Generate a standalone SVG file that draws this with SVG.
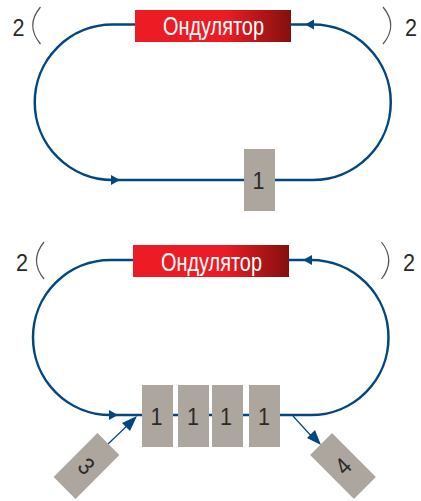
<svg xmlns="http://www.w3.org/2000/svg" width="421" height="501" viewBox="0 0 421 501">
<style>
.beam{fill:none;stroke:#04467f;stroke-width:2.500}
.thin{fill:none;stroke:#04467f;stroke-width:1.200}
.head{fill:#04467f}
.brk{fill:none;stroke:#55524f;stroke-width:1.200}
.box{fill:#aca69f}
.und{fill:url(#g)}
.t{font-family:"Liberation Sans",Arial,sans-serif;font-size:24px;fill:#2b2a29;text-anchor:middle}
.w{font-family:"Liberation Sans",Arial,sans-serif;font-size:25px;fill:#fff}
</style>
<defs>
<linearGradient id="g" x1="0" x2="1" y1="0" y2="0"><stop offset="0" stop-color="#ed1c24"/><stop offset="0.58" stop-color="#ed1c24"/><stop offset="1" stop-color="#83100f"/></linearGradient>
</defs>
<rect width="421" height="501" fill="#fff"/>
<g id="connectors">
<path class="beam" d="M135 24.500H112.500A77.750 77.750 0 0 0 112.500 180H244M275 180H313A77.750 77.750 0 0 0 313 24.500H291"/>
<path class="head" d="M120 180L111 175V185Z M305 24.500L314 19.500V29.500Z"/>
<path class="beam" d="M133 260H110.500A77.500 77.500 0 0 0 110.500 415H142M173 415H178M209 415H212M243 415H249M280 415H311A77.500 77.500 0 0 0 311 260H289"/>
<path class="head" d="M118 415L109 410V420Z M303 260L312 255V265Z"/>
<path class="thin" d="M108 444L130 423M293 416L314 439"/>
<path class="head" d="M137 416L130 431L122 423Z M321 445L307 438L315 430Z"/>
<path class="brk" d="M40.500 7Q25 25.500 40.500 44M383 7Q398.500 25.500 383 44M44 242Q29 260.500 44 279M381.500 242Q396 260.500 381.500 279"/>
</g>
<g id="undulator-top"><rect class="und" x="135" y="10" width="156" height="32"/><text class="w" x="163" y="35" textLength="101" lengthAdjust="spacingAndGlyphs">Ондулятор</text></g>
<g id="undulator-bottom"><rect class="und" x="133" y="245" width="156" height="32"/><text class="w" x="161" y="271" textLength="101" lengthAdjust="spacingAndGlyphs">Ондулятор</text></g>
<g id="label-2a"><text class="t" x="18.500" y="36" textLength="12" lengthAdjust="spacingAndGlyphs">2</text></g>
<g id="label-2b"><text class="t" x="411" y="36" textLength="12" lengthAdjust="spacingAndGlyphs">2</text></g>
<g id="label-2c"><text class="t" x="22" y="271" textLength="12" lengthAdjust="spacingAndGlyphs">2</text></g>
<g id="label-2d"><text class="t" x="409" y="271" textLength="12" lengthAdjust="spacingAndGlyphs">2</text></g>
<g id="box-1"><rect class="box" x="244" y="149" width="31" height="62"/><text class="t" x="258.500" y="189" textLength="12" lengthAdjust="spacingAndGlyphs">1</text></g>
<g id="box-1a"><rect class="box" x="142" y="385" width="31" height="62"/><text class="t" x="156.500" y="425" textLength="12" lengthAdjust="spacingAndGlyphs">1</text></g>
<g id="box-1b"><rect class="box" x="178" y="385" width="31" height="62"/><text class="t" x="193" y="425" textLength="12" lengthAdjust="spacingAndGlyphs">1</text></g>
<g id="box-1c"><rect class="box" x="212" y="385" width="31" height="62"/><text class="t" x="226" y="425" textLength="12" lengthAdjust="spacingAndGlyphs">1</text></g>
<g id="box-1d"><rect class="box" x="249" y="385" width="31" height="62"/><text class="t" x="264" y="425" textLength="12" lengthAdjust="spacingAndGlyphs">1</text></g>
<g id="box-3" transform="translate(86.500 466) rotate(45)"><rect class="box" x="-15.500" y="-31" width="31" height="62"/><text class="t" x="0" y="8.500" textLength="12" lengthAdjust="spacingAndGlyphs">3</text></g>
<g id="box-4" transform="translate(343 466) rotate(-45)"><rect class="box" x="-15.500" y="-31" width="31" height="62"/><text class="t" x="0" y="8.500" textLength="12" lengthAdjust="spacingAndGlyphs">4</text></g>
</svg>
